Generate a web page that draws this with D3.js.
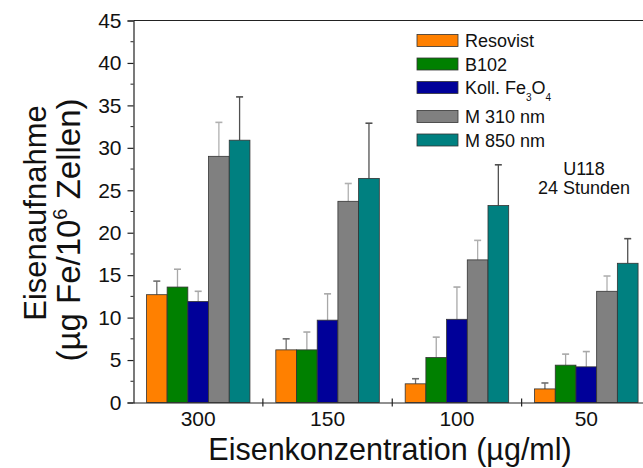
<!DOCTYPE html>
<html>
<head>
<meta charset="utf-8">
<script src="https://cdn.jsdelivr.net/npm/d3@7"></script>
<style>
  html, body { margin: 0; padding: 0; background: #fff; }
  svg text { font-family: "Liberation Sans", Arial, sans-serif; fill: #111; }
</style>
</head>
<body>
<svg id="chart" width="643" height="468"></svg>
<script>
// ---- data ----
const categories = ["300", "150", "100", "50"];
const seriesNames = ["Resovist", "B102", "Koll. Fe3O4", "M 310 nm", "M 850 nm"];
const seriesColors = ["#ff8000", "#008000", "#000099", "#808080", "#008080"];
const errColors = ["#6e6e6e", "#a8a8a8", "#a8a8a8", "#b0b0b0", "#505050"];
const resovist    = [12.7, 6.2, 2.2, 1.6];
const resovistErr = [1.6, 1.3, 0.6, 0.7];
const b102        = [13.6, 6.2, 5.3, 4.4];
const b102Err     = [2.1, 2.1, 2.4, 1.3];
const koll        = [11.9, 9.7, 9.8, 4.2];
const kollErr     = [1.2, 3.1, 3.8, 1.8];
const m310        = [29.0, 23.7, 16.8, 13.1];
const m310Err     = [4.0, 2.1, 2.3, 1.8];
const m850        = [30.9, 26.4, 23.2, 16.4];
const m850Err     = [5.1, 6.5, 4.8, 2.9];
const yTicks = [0, 5, 10, 15, 20, 25, 30, 35, 40, 45];
const yMinorTicks = [2.5, 7.5, 12.5, 17.5, 22.5, 27.5, 32.5, 37.5, 42.5];

const values = [resovist, b102, koll, m310, m850];
const errors = [resovistErr, b102Err, kollErr, m310Err, m850Err];

// ---- layout ----
const svg = d3.select("#chart");
const plotL = 133.5, plotR = 651, plotT = 20.5, plotB = 402.5;

const x = d3.scaleBand().domain(categories).range([plotL, plotR])
  .paddingInner(0.2).paddingOuter(0.1);
const xs = d3.scaleBand().domain(d3.range(seriesNames.length)).range([0, x.bandwidth()]);
const y = d3.scaleLinear().domain([0, 45]).range([plotB, plotT]);

const rows = [];
categories.forEach((c, ci) => {
  seriesNames.forEach((s, si) => {
    rows.push({c, si, v: values[si][ci], e: errors[si][ci]});
  });
});

// error bars
const eg = svg.append("g");
rows.forEach(d => {
  const cx = x(d.c) + xs(d.si) + xs.bandwidth() / 2;
  eg.append("line").attr("x1", cx).attr("x2", cx)
    .attr("y1", y(d.v)).attr("y2", y(d.v + d.e))
    .attr("stroke", errColors[d.si]).attr("stroke-width", 1.3);
  eg.append("line").attr("x1", cx - 3.5).attr("x2", cx + 3.5)
    .attr("y1", y(d.v + d.e)).attr("y2", y(d.v + d.e))
    .attr("stroke", errColors[d.si]).attr("stroke-width", 1.6);
});

svg.append("g").selectAll("rect").data(rows).join("rect")
  .attr("x", d => x(d.c) + xs(d.si))
  .attr("y", d => y(d.v))
  .attr("width", xs.bandwidth())
  .attr("height", d => y(0) - y(d.v))
  .attr("fill", d => seriesColors[d.si])
  .attr("stroke", "#333")
  .attr("stroke-width", 0.8);

// frame (top line)
svg.append("line").attr("x1", plotL).attr("x2", 643).attr("y1", plotT).attr("y2", plotT)
  .attr("stroke", "#222").attr("stroke-width", 1.2);

// y axis
const yAxis = d3.axisLeft(y).tickValues(yTicks).tickSize(6).tickPadding(6).tickFormat(d3.format("d"));
const yg = svg.append("g").attr("transform", `translate(${plotL},0)`).call(yAxis);
yg.select(".domain").attr("stroke", "#222").attr("stroke-width", 1.2);
yg.selectAll(".tick line").attr("stroke", "#222").attr("stroke-width", 1.2);
yg.selectAll(".tick text").style("font-size", "21px").attr("fill", "#111");
svg.append("g").selectAll("line").data(yMinorTicks).join("line")
  .attr("x1", plotL - 3).attr("x2", plotL).attr("y1", d => y(d)).attr("y2", d => y(d))
  .attr("stroke", "#222").attr("stroke-width", 1);

// x axis
const xAxis = d3.axisBottom(x).tickSize(0).tickPadding(9);
const xg = svg.append("g").attr("transform", `translate(0,${plotB})`).call(xAxis);
xg.select(".domain").attr("stroke", "#222").attr("stroke-width", 1.2);
xg.selectAll(".tick text").style("font-size", "21px").attr("fill", "#111");
const halfGap = x.step() * x.paddingInner() / 2;
svg.append("g").selectAll("line").data(categories.slice(1)).join("line")
  .attr("x1", d => x(d) - halfGap).attr("x2", d => x(d) - halfGap)
  .attr("y1", plotB - 4).attr("y2", plotB + 4)
  .attr("stroke", "#222").attr("stroke-width", 1.2);

// axis titles
svg.append("text").attr("x", 390).attr("y", 460)
  .attr("text-anchor", "middle").style("font-size", "30.5px")
  .text("Eisenkonzentration (µg/ml)");

const yt = svg.append("g").attr("transform", "translate(46,0) rotate(-90)");
yt.append("text").attr("x", -213).attr("y", 0).attr("text-anchor", "middle")
  .style("font-size", "31px").text("Eisenaufnahme");
const yt2 = yt.append("text").attr("x", -230).attr("y", 34).attr("text-anchor", "middle")
  .style("font-size", "33px");
yt2.append("tspan").text("(µg Fe/10");
yt2.append("tspan").attr("dy", -13).style("font-size", "20px").text("6");
yt2.append("tspan").attr("dy", 13).text(" Zellen)");

// legend
const legendY = [40.5, 64, 87.5, 116.5, 140];
const lg = svg.append("g");
seriesNames.forEach((s, i) => {
  lg.append("rect").attr("x", 417).attr("y", legendY[i] - 6).attr("width", 41).attr("height", 12)
    .attr("fill", seriesColors[i]).attr("stroke", "#333").attr("stroke-width", 0.8);
  const t = lg.append("text").attr("x", 465).attr("y", legendY[i] + 6.5).style("font-size", "18px");
  if (s === "Koll. Fe3O4") {
    t.append("tspan").text("Koll. Fe");
    t.append("tspan").attr("dy", 7).style("font-size", "10px").text("3");
    t.append("tspan").attr("dy", -7).text("O");
    t.append("tspan").attr("dy", 7).style("font-size", "10px").text("4");
  } else {
    t.text(s);
  }
});

// annotation
svg.append("text").attr("x", 584).attr("y", 175).attr("text-anchor", "middle")
  .style("font-size", "18px").text("U118");
svg.append("text").attr("x", 584).attr("y", 194).attr("text-anchor", "middle")
  .style("font-size", "18px").text("24 Stunden");
</script>
</body>
</html>
